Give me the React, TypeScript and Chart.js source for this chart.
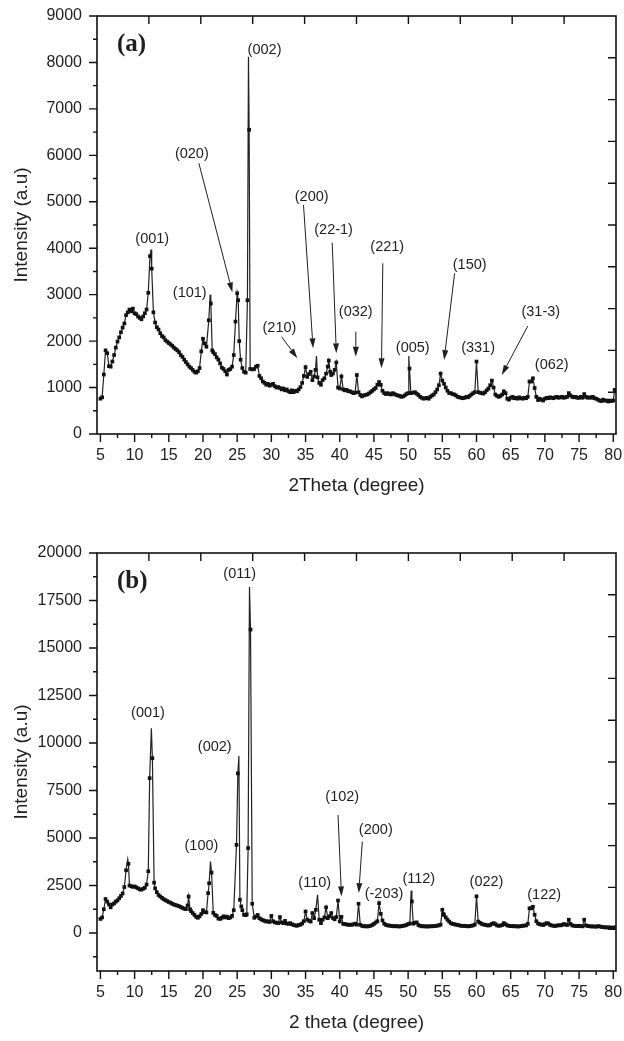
import { useEffect, useRef } from 'react';
import { Chart, registerables } from 'chart.js';

Chart.register(...registerables);

// ---------- data: panel (a) ----------
const scanA: [number, number][] = [
  [5.0, 760], [5.25, 790], [5.5, 1280], [5.75, 1800], [6.0, 1740], [6.25, 1460], [6.5, 1450], [6.75, 1560],
  [7.0, 1700], [7.25, 1860], [7.5, 1990], [7.75, 2080], [8.0, 2190], [8.25, 2290], [8.5, 2380], [8.75, 2560],
  [9.0, 2620], [9.25, 2680], [9.5, 2640], [9.75, 2700], [10.0, 2600], [10.25, 2580], [10.5, 2530], [10.75, 2500],
  [11.0, 2470], [11.25, 2530], [11.5, 2600], [11.75, 2680], [12.0, 3040], [12.25, 3830], [12.4, 3970], [12.5, 3560],
  [12.75, 2620], [13.0, 2400], [13.25, 2300], [13.5, 2250], [13.75, 2170], [14.0, 2110], [14.25, 2080], [14.5, 2020],
  [14.75, 1990], [15.0, 1960], [15.25, 1930], [15.5, 1900], [15.75, 1860], [16.0, 1830], [16.25, 1800], [16.5, 1760],
  [16.75, 1700], [17.0, 1660], [17.25, 1600], [17.5, 1550], [17.75, 1500], [18.0, 1450], [18.25, 1420], [18.5, 1380],
  [18.75, 1340], [19.0, 1320], [19.25, 1350], [19.5, 1420], [19.75, 1780], [20.0, 2050], [20.25, 1950], [20.5, 1880],
  [20.85, 2450], [21.05, 3000], [21.15, 2810], [21.35, 1800], [21.5, 1760], [21.75, 1720], [22.0, 1650], [22.25, 1600],
  [22.5, 1520], [22.75, 1430], [23.0, 1400], [23.25, 1350], [23.5, 1280], [23.75, 1380], [24.0, 1400], [24.25, 1450],
  [24.5, 1700], [24.75, 2420], [25.0, 3030], [25.15, 2880], [25.3, 2000], [25.5, 1600], [25.75, 1420], [26.0, 1340],
  [26.25, 1320], [26.5, 2880], [26.65, 8120], [26.75, 6550], [26.9, 1400], [27.25, 1390], [27.5, 1400], [27.75, 1450],
  [28.0, 1470], [28.25, 1250], [28.5, 1200], [28.75, 1130], [29.0, 1100], [29.25, 1060], [29.5, 1080], [29.75, 1040],
  [30.0, 1060], [30.25, 1080], [30.5, 1030], [30.75, 1000], [31.0, 1010], [31.25, 990], [31.5, 960], [31.75, 980],
  [32.0, 940], [32.25, 960], [32.5, 920], [32.75, 900], [33.0, 940], [33.25, 900], [33.5, 930], [33.75, 920],
  [34.0, 960], [34.25, 1010], [34.5, 1100], [34.75, 1250], [35.0, 1440], [35.25, 1230], [35.5, 1290], [35.75, 1340],
  [36.0, 1160], [36.25, 1240], [36.45, 1380], [36.6, 1680], [36.75, 1220], [37.0, 1100], [37.25, 1060], [37.5, 1160],
  [37.75, 1200], [38.0, 1300], [38.25, 1450], [38.4, 1580], [38.6, 1340], [38.75, 1270], [39.0, 1300], [39.25, 1380],
  [39.5, 1540], [39.75, 1000], [40.0, 980], [40.25, 1240], [40.5, 960], [40.75, 940], [41.0, 950], [41.25, 920],
  [41.5, 920], [41.75, 900], [42.0, 880], [42.25, 890], [42.5, 1270], [42.75, 900], [43.0, 840], [43.25, 810],
  [43.5, 830], [43.75, 840], [44.0, 850], [44.25, 870], [44.5, 900], [44.75, 930], [45.0, 960], [45.25, 990],
  [45.5, 1060], [45.75, 1120], [46.0, 1060], [46.25, 930], [46.5, 880], [46.75, 860], [47.0, 880], [47.25, 860],
  [47.5, 850], [47.75, 880], [48.0, 860], [48.25, 840], [48.5, 830], [48.75, 820], [49.0, 800], [49.25, 810],
  [49.5, 830], [49.75, 860], [50.0, 880], [50.1, 1680], [50.2, 1410], [50.4, 880], [50.75, 890], [51.0, 900],
  [51.25, 870], [51.5, 840], [51.75, 800], [52.0, 780], [52.25, 760], [52.5, 770], [52.75, 780], [53.0, 760],
  [53.25, 800], [53.5, 830], [53.75, 850], [54.0, 900], [54.25, 960], [54.5, 1050], [54.75, 1300], [55.0, 1150],
  [55.25, 1080], [55.5, 1000], [55.75, 930], [56.0, 880], [56.25, 880], [56.5, 860], [56.75, 850], [57.0, 830],
  [57.25, 800], [57.5, 790], [57.75, 780], [58.0, 770], [58.25, 780], [58.5, 800], [58.75, 790], [59.0, 820],
  [59.25, 850], [59.5, 880], [59.75, 900], [60.0, 1560], [60.25, 900], [60.5, 890], [60.75, 880], [61.0, 870],
  [61.25, 900], [61.5, 940], [61.75, 980], [62.0, 1050], [62.25, 1150], [62.5, 1000], [62.75, 850], [63.0, 820],
  [63.25, 800], [63.5, 820], [63.75, 850], [64.0, 920], [64.25, 880], [64.5, 760], [64.75, 740], [65.0, 780],
  [65.25, 800], [65.5, 770], [65.75, 780], [66.0, 760], [66.25, 790], [66.5, 770], [66.75, 760], [67.0, 780],
  [67.25, 770], [67.5, 800], [67.75, 1130], [68.0, 1130], [68.25, 1200], [68.5, 990], [68.75, 800], [69.0, 730],
  [69.25, 760], [69.5, 740], [69.75, 720], [70.0, 760], [70.25, 780], [70.5, 770], [70.75, 790], [71.0, 780],
  [71.25, 770], [71.5, 790], [71.75, 800], [72.0, 780], [72.25, 790], [72.5, 800], [72.75, 780], [73.0, 790],
  [73.25, 800], [73.5, 880], [73.75, 830], [74.0, 800], [74.25, 790], [74.5, 800], [74.75, 780], [75.0, 780],
  [75.25, 800], [75.5, 780], [75.75, 860], [76.0, 800], [76.25, 780], [76.5, 790], [76.75, 780], [77.0, 800],
  [77.25, 770], [77.5, 760], [77.75, 740], [78.0, 720], [78.25, 710], [78.5, 740], [78.75, 720], [79.0, 720],
  [79.25, 700], [79.5, 720], [79.75, 710], [80.0, 720], [80.2, 950],
];
const unmarkedA = [12.4, 21.05, 26.65, 36.6, 50.1];

// ---------- data: panel (b) ----------
const scanB: [number, number][] = [
  [5.0, 740], [5.25, 820], [5.5, 1250], [5.75, 1790], [6.0, 1650], [6.25, 1500], [6.5, 1350], [6.75, 1500],
  [7.0, 1560], [7.25, 1650], [7.5, 1720], [7.75, 1830], [8.0, 1950], [8.25, 2080], [8.5, 2420], [8.75, 3300],
  [9.0, 3880], [9.1, 3640], [9.25, 2500], [9.5, 2460], [9.75, 2430], [10.0, 2450], [10.25, 2400], [10.5, 2350],
  [10.75, 2300], [11.0, 2280], [11.25, 2330], [11.5, 2380], [11.75, 2550], [12.0, 3250], [12.2, 8150], [12.45, 10780],
  [12.6, 9200], [12.85, 2650], [13.0, 2350], [13.25, 2150], [13.5, 2000], [13.75, 1920], [14.0, 1850], [14.25, 1780],
  [14.5, 1730], [14.75, 1680], [15.0, 1630], [15.25, 1590], [15.5, 1540], [15.75, 1500], [16.0, 1470], [16.25, 1440],
  [16.5, 1410], [16.75, 1370], [17.0, 1320], [17.25, 1280], [17.5, 1260], [17.75, 1450], [17.9, 1920], [18.1, 1250],
  [18.25, 1150], [18.5, 1050], [18.75, 950], [19.0, 850], [19.25, 800], [19.5, 880], [19.75, 1000], [20.0, 1200],
  [20.25, 1100], [20.5, 1080], [20.75, 2100], [20.9, 2620], [21.1, 3760], [21.25, 3180], [21.5, 1060], [21.75, 950],
  [22.0, 900], [22.25, 760], [22.5, 740], [22.75, 800], [23.0, 880], [23.25, 820], [23.5, 860], [23.75, 780],
  [24.0, 820], [24.25, 900], [24.5, 1200], [24.9, 4640], [25.1, 8400], [25.25, 9320], [25.4, 1750], [25.6, 1400],
  [25.75, 1200], [26.0, 960], [26.25, 940], [26.4, 980], [26.6, 4470], [26.8, 18210], [26.95, 15970], [27.2, 1540],
  [27.5, 800], [27.75, 870], [28.0, 950], [28.25, 780], [28.5, 720], [28.75, 680], [29.0, 640], [29.25, 600],
  [29.5, 620], [29.75, 580], [30.0, 900], [30.25, 620], [30.5, 560], [30.75, 540], [31.0, 520], [31.25, 840],
  [31.5, 560], [31.75, 520], [32.0, 640], [32.25, 500], [32.5, 480], [32.75, 520], [33.0, 460], [33.25, 420],
  [33.5, 400], [33.75, 380], [34.0, 420], [34.25, 440], [34.5, 500], [34.75, 620], [35.0, 1130], [35.25, 700],
  [35.5, 640], [35.75, 600], [36.0, 1050], [36.25, 780], [36.5, 1220], [36.75, 2010], [37.0, 700], [37.25, 520],
  [37.5, 700], [37.75, 820], [38.0, 1350], [38.25, 780], [38.5, 880], [38.75, 1050], [39.0, 790], [39.25, 720],
  [39.5, 840], [39.75, 1710], [40.0, 610], [40.25, 850], [40.5, 480], [40.75, 470], [41.0, 450], [41.25, 430],
  [41.5, 440], [41.75, 430], [42.0, 460], [42.25, 490], [42.5, 440], [42.75, 1540], [43.0, 430], [43.25, 380],
  [43.5, 350], [43.75, 360], [44.0, 340], [44.25, 360], [44.5, 380], [44.75, 420], [45.0, 480], [45.25, 550],
  [45.5, 620], [45.75, 1570], [46.0, 1010], [46.25, 660], [46.5, 490], [46.75, 430], [47.0, 400], [47.25, 390],
  [47.5, 380], [47.75, 360], [48.0, 350], [48.25, 370], [48.5, 350], [48.75, 340], [49.0, 360], [49.25, 380],
  [49.5, 390], [49.75, 420], [50.0, 470], [50.25, 500], [50.45, 2240], [50.55, 1660], [50.75, 490], [51.0, 540],
  [51.25, 560], [51.5, 420], [51.75, 380], [52.0, 350], [52.25, 360], [52.5, 340], [52.75, 350], [53.0, 340],
  [53.25, 360], [53.5, 350], [53.75, 360], [54.0, 370], [54.25, 390], [54.5, 400], [54.75, 440], [55.0, 1220],
  [55.15, 1000], [55.25, 950], [55.5, 820], [55.75, 700], [56.0, 600], [56.25, 520], [56.5, 480], [56.75, 460],
  [57.0, 440], [57.25, 420], [57.5, 400], [57.75, 380], [58.0, 370], [58.25, 380], [58.5, 360], [58.75, 350],
  [59.0, 360], [59.25, 380], [59.5, 400], [59.75, 440], [60.0, 1930], [60.25, 600], [60.5, 540], [60.75, 480],
  [61.0, 450], [61.25, 430], [61.5, 410], [61.75, 390], [62.0, 420], [62.25, 480], [62.5, 520], [62.75, 470],
  [63.0, 400], [63.25, 380], [63.5, 390], [63.75, 420], [64.0, 520], [64.25, 460], [64.5, 400], [64.75, 380],
  [65.0, 360], [65.25, 370], [65.5, 350], [65.75, 360], [66.0, 340], [66.25, 350], [66.5, 360], [66.75, 380],
  [67.0, 390], [67.25, 400], [67.5, 480], [67.75, 1300], [68.0, 1300], [68.25, 1380], [68.5, 960], [68.75, 620],
  [69.0, 500], [69.25, 460], [69.5, 440], [69.75, 420], [70.0, 470], [70.25, 520], [70.5, 500], [70.75, 430],
  [71.0, 400], [71.25, 380], [71.5, 370], [71.75, 390], [72.0, 410], [72.25, 400], [72.5, 420], [72.75, 470],
  [73.0, 450], [73.25, 420], [73.5, 700], [73.75, 480], [74.0, 400], [74.25, 380], [74.5, 370], [74.75, 360],
  [75.0, 380], [75.25, 360], [75.5, 350], [75.75, 700], [76.0, 400], [76.25, 370], [76.5, 360], [76.75, 340],
  [77.0, 350], [77.25, 340], [77.5, 330], [77.75, 360], [78.0, 350], [78.25, 320], [78.5, 310], [78.75, 300],
  [79.0, 290], [79.25, 300], [79.5, 280], [79.75, 290], [80.0, 270], [80.25, 300],
];
const unmarkedB = [9.0, 12.45, 21.1, 25.25, 26.8, 36.75, 50.45];

// ---------- ticks ----------
const xTickValues = [5, 10, 15, 20, 25, 30, 35, 40, 45, 50, 55, 60, 65, 70, 75, 80];
const xMinorValues = [7.5, 12.5, 17.5, 22.5, 27.5, 32.5, 37.5, 42.5, 47.5, 52.5, 57.5, 62.5, 67.5, 72.5, 77.5];
const yTicksA = [0, 1000, 2000, 3000, 4000, 5000, 6000, 7000, 8000, 9000];
const yMinorA = [500, 1500, 2500, 3500, 4500, 5500, 6500, 7500, 8500];
const yTicksB = [0, 2500, 5000, 7500, 10000, 12500, 15000, 17500, 20000];
const yMinorB = [-1250, 1250, 3750, 6250, 8750, 11250, 13750, 16250, 18750];

// ---------- annotations (data coordinates) ----------
type Label = { text: string; x: number; y: number };
type Arrow = { x1: number; y1: number; x2: number; y2: number };

const labelsA: Label[] = [
  { text: '(002)', x: 29.0, y: 8270 },
  { text: '(020)', x: 18.37, y: 6030 },
  { text: '(001)', x: 12.58, y: 4200 },
  { text: '(101)', x: 18.06, y: 3040 },
  { text: '(200)', x: 35.9, y: 5100 },
  { text: '(22-1)', x: 39.1, y: 4390 },
  { text: '(221)', x: 46.95, y: 4030 },
  { text: '(032)', x: 42.34, y: 2630 },
  { text: '(210)', x: 31.18, y: 2276 },
  { text: '(005)', x: 50.68, y: 1858 },
  { text: '(150)', x: 59.0, y: 3638 },
  { text: '(331)', x: 60.23, y: 1858 },
  { text: '(31-3)', x: 69.4, y: 2633 },
  { text: '(062)', x: 71.0, y: 1485 },
];
const arrowsA: Arrow[] = [
  { x1: 19.4, y1: 5830, x2: 24.3, y2: 3050 },
  { x1: 34.7, y1: 4930, x2: 36.1, y2: 1845 },
  { x1: 38.9, y1: 4118, x2: 39.5, y2: 1737 },
  { x1: 46.3, y1: 3675, x2: 46.1, y2: 1414 },
  { x1: 42.35, y1: 2202, x2: 42.35, y2: 1664 },
  { x1: 31.5, y1: 2094, x2: 33.8, y2: 1630 },
  { x1: 56.8, y1: 3460, x2: 55.26, y2: 1593 },
  { x1: 67.5, y1: 2325, x2: 63.7, y2: 1270 },
];

const labelsB: Label[] = [
  { text: '(011)', x: 25.37, y: 18916 },
  { text: '(001)', x: 11.96, y: 11560 },
  { text: '(002)', x: 21.72, y: 9773 },
  { text: '(100)', x: 19.77, y: 4587 },
  { text: '(110)', x: 36.34, y: 2627 },
  { text: '(102)', x: 40.37, y: 7146 },
  { text: '(200)', x: 45.27, y: 5428 },
  { text: '(-203)', x: 46.48, y: 2065 },
  { text: '(112)', x: 51.56, y: 2853 },
  { text: '(022)', x: 61.46, y: 2659 },
  { text: '(122)', x: 69.9, y: 2012 },
];
const arrowsB: Arrow[] = [
  { x1: 39.75, y1: 6216, x2: 40.25, y2: 1923 },
  { x1: 43.3, y1: 4813, x2: 42.78, y2: 2102 },
];

const SANS = '"Liberation Sans", Arial, Helvetica, sans-serif';
const SERIF = '"Liberation Serif", "Times New Roman", serif';
const INK = '#1f1f1f';

const decorPlugin = {
  id: 'xrdDecor',
  afterDatasetsDraw(chart: any, _args: any, opts: any) {
    const { ctx, chartArea: a, scales } = chart;
    const xs = scales.x;
    const ys = scales.y;
    ctx.save();
    ctx.fillStyle = INK;
    ctx.font = `14.5px ${SANS}`;
    ctx.textAlign = 'center';
    ctx.textBaseline = 'middle';
    for (const l of opts.labels as Label[]) {
      ctx.fillText(l.text, xs.getPixelForValue(l.x), ys.getPixelForValue(l.y));
    }
    ctx.strokeStyle = INK;
    ctx.lineWidth = 1;
    for (const ar of opts.arrows as Arrow[]) {
      const x1 = xs.getPixelForValue(ar.x1);
      const y1 = ys.getPixelForValue(ar.y1);
      const x2 = xs.getPixelForValue(ar.x2);
      const y2 = ys.getPixelForValue(ar.y2);
      const ang = Math.atan2(y2 - y1, x2 - x1);
      const hl = 10;
      const hw = 3;
      const bx = x2 - hl * Math.cos(ang);
      const by = y2 - hl * Math.sin(ang);
      ctx.beginPath();
      ctx.moveTo(x1, y1);
      ctx.lineTo(bx, by);
      ctx.stroke();
      ctx.beginPath();
      ctx.moveTo(x2, y2);
      ctx.lineTo(bx + hw * Math.sin(ang), by - hw * Math.cos(ang));
      ctx.lineTo(bx - hw * Math.sin(ang), by + hw * Math.cos(ang));
      ctx.closePath();
      ctx.fill();
    }
    ctx.font = `bold 25px ${SERIF}`;
    ctx.textAlign = 'left';
    ctx.fillText(opts.panel, a.left + 20, a.top + 29);
    ctx.strokeStyle = '#111';
    ctx.lineWidth = 1.6;
    ctx.strokeRect(a.left, a.top, a.right - a.left, a.bottom - a.top);
    ctx.lineWidth = 1.4;
    ctx.beginPath();
    for (const v of opts.yMajor as number[]) {
      const y = ys.getPixelForValue(v);
      ctx.moveTo(a.left - 8, y);
      ctx.lineTo(a.left, y);
    }
    for (const v of opts.yMinor as number[]) {
      const y = ys.getPixelForValue(v);
      ctx.moveTo(a.left - 4, y);
      ctx.lineTo(a.left, y);
    }
    for (const v of xTickValues) {
      const x = xs.getPixelForValue(v);
      ctx.moveTo(x, a.bottom);
      ctx.lineTo(x, a.bottom + 8);
    }
    for (const v of xMinorValues) {
      const x = xs.getPixelForValue(v);
      ctx.moveTo(x, a.bottom);
      ctx.lineTo(x, a.bottom + 4);
    }
    for (let k = 1; k < 10; k++) {
      const x = a.left + ((a.right - a.left) * k) / 10;
      ctx.moveTo(x, a.top);
      ctx.lineTo(x, a.top + 8);
      const y = a.top + ((a.bottom - a.top) * k) / 10;
      ctx.moveTo(a.right - 8, y);
      ctx.lineTo(a.right, y);
    }
    ctx.stroke();
    ctx.restore();
  },
};

type PanelCfg = {
  height: number;
  padTop: number;
  xAxisHeight: number;
  xTitle: string;
  xTitlePadBottom: number;
  yMin: number;
  yMax: number;
  yTicks: number[];
  yMinor: number[];
  scan: [number, number][];
  unmarked: number[];
  labels: Label[];
  arrows: Arrow[];
  panel: string;
};

const panelA: PanelCfg = {
  height: 510, padTop: 16, xAxisHeight: 76, xTitle: '2Theta (degree)', xTitlePadBottom: 13,
  yMin: 0, yMax: 9000, yTicks: yTicksA, yMinor: yMinorA, scan: scanA, unmarked: unmarkedA,
  labels: labelsA, arrows: arrowsA, panel: '(a)',
};
const panelB: PanelCfg = {
  height: 531, padTop: 43, xAxisHeight: 70, xTitle: '2 theta (degree)', xTitlePadBottom: 7,
  yMin: -2000, yMax: 20000, yTicks: yTicksB, yMinor: yMinorB, scan: scanB, unmarked: unmarkedB,
  labels: labelsB, arrows: arrowsB, panel: '(b)',
};

function buildConfig(p: PanelCfg): any {
  const skip = new Set(p.unmarked);
  return {
    type: 'scatter',
    data: {
      datasets: [
        {
          data: p.scan.map(([x, y]) => ({ x, y })),
          showLine: true,
          borderColor: '#222',
          borderWidth: 1.2,
          pointStyle: 'rect',
          pointRadius: (c: any) => (skip.has(p.scan[c.dataIndex]?.[0]) ? 0 : 2.6),
          pointBackgroundColor: '#111',
          pointBorderWidth: 0,
          tension: 0,
        },
      ],
    },
    options: {
      animation: false,
      responsive: false,
      devicePixelRatio: 1,
      events: [],
      layout: { padding: { top: p.padTop, right: 8, left: 0, bottom: 0 } },
      plugins: {
        legend: { display: false },
        tooltip: { enabled: false },
        xrdDecor: { labels: p.labels, arrows: p.arrows, panel: p.panel, yMajor: p.yTicks, yMinor: p.yMinor },
      },
      scales: {
        x: {
          type: 'linear',
          position: 'bottom',
          min: 4.5,
          max: 80.4,
          afterBuildTicks: (s: any) => {
            s.ticks = xTickValues.map((v) => ({ value: v }));
          },
          afterFit: (s: any) => {
            s.height = p.xAxisHeight;
            s.paddingLeft = 0;
            s.paddingRight = 0;
            s.paddingTop = 0;
            s.paddingBottom = 0;
          },
          grid: { display: false, drawTicks: false },
          border: { display: false },
          ticks: {
            padding: 12,
            color: INK,
            autoSkip: false,
            maxRotation: 0,
            font: { family: SANS, size: 16 },
            callback: (v: any) => String(v),
          },
          title: {
            display: true,
            text: p.xTitle,
            color: INK,
            font: { family: SANS, size: 19 },
            padding: { top: 0, bottom: p.xTitlePadBottom },
          },
        },
        y: {
          type: 'linear',
          position: 'left',
          min: p.yMin,
          max: p.yMax,
          afterBuildTicks: (s: any) => {
            s.ticks = p.yTicks.map((v) => ({ value: v }));
          },
          afterFit: (s: any) => {
            s.width = 97;
            s.paddingLeft = 0;
            s.paddingRight = 0;
            s.paddingTop = 0;
            s.paddingBottom = 0;
          },
          grid: { display: false, drawTicks: false },
          border: { display: false },
          ticks: {
            padding: 15,
            color: INK,
            autoSkip: false,
            font: { family: SANS, size: 16 },
            callback: (v: any) => String(v),
          },
          title: {
            display: true,
            text: 'Intensity (a.u)',
            color: INK,
            font: { family: SANS, size: 19 },
            padding: { top: 10, bottom: 0 },
          },
        },
      },
    },
    plugins: [decorPlugin],
  };
}

function XrdPanel({ cfg }: { cfg: PanelCfg }) {
  const ref = useRef<HTMLCanvasElement>(null);
  useEffect(() => {
    if (!ref.current) return;
    const chart = new Chart(ref.current, buildConfig(cfg));
    return () => chart.destroy();
  }, [cfg]);
  return (
    <canvas
      ref={ref}
      width={624}
      height={cfg.height}
      style={{ display: 'block', width: 624, height: cfg.height }}
    />
  );
}

export default function App() {
  useEffect(() => {
    document.body.style.margin = '0';
  }, []);
  return (
    <div style={{ position: 'absolute', left: 0, top: 0, width: 624, height: 1041, background: '#fff' }}>
      <XrdPanel cfg={panelA} />
      <XrdPanel cfg={panelB} />
    </div>
  );
}
